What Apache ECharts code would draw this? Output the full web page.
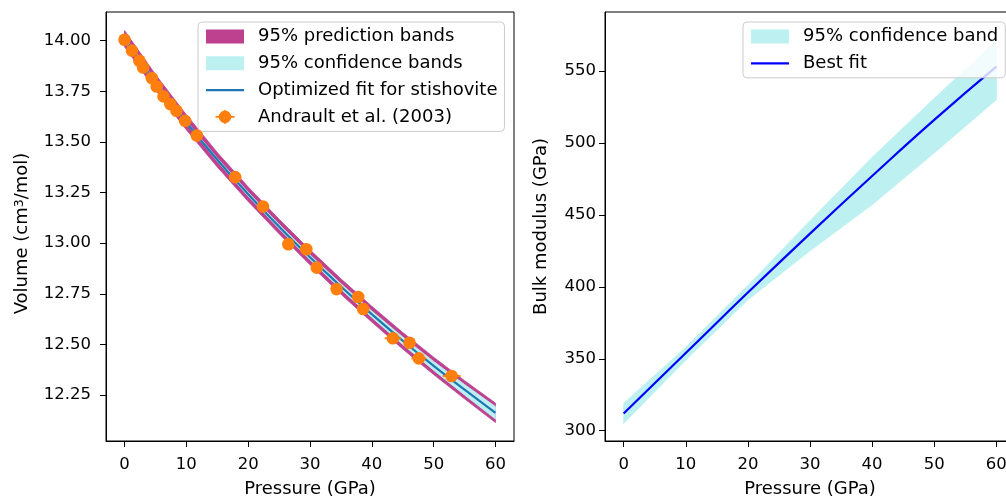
<!DOCTYPE html>
<html><head><meta charset="utf-8">
<script src="https://cdn.jsdelivr.net/npm/echarts@6/dist/echarts.min.js"></script>
<style>html,body{margin:0;padding:0;background:#fff}#c{width:1006px;height:498px}</style>
</head><body><div id="c"></div>
<script>
// ---- tick labels ----
const xTicks = [0, 10, 20, 30, 40, 50, 60];
const volTicks = [12.25, 12.5, 12.75, 13.0, 13.25, 13.5, 13.75, 14.0];
const kTicks = [300, 350, 400, 450, 500, 550];

// ---- left panel: fit curve and bands ----
const fitP     = [0, 5, 10, 15, 20, 25, 30, 35, 40, 45, 50, 55, 60];
const fitV     = [14.010, 13.795, 13.597, 13.412, 13.242, 13.082, 12.930, 12.786, 12.649, 12.518, 12.394, 12.276, 12.162];
const predHigh = [14.050, 13.833, 13.634, 13.448, 13.278, 13.118, 12.967, 12.824, 12.688, 12.559, 12.437, 12.321, 12.210];
const predLow  = [13.970, 13.757, 13.560, 13.376, 13.206, 13.046, 12.893, 12.748, 12.610, 12.477, 12.351, 12.231, 12.114];
const confHigh = [14.020, 13.802, 13.603, 13.420, 13.252, 13.093, 12.942, 12.800, 12.665, 12.537, 12.416, 12.302, 12.193];
const confLow  = [14.000, 13.788, 13.591, 13.404, 13.232, 13.071, 12.918, 12.772, 12.633, 12.499, 12.372, 12.250, 12.131];

// ---- left panel: Andrault et al. (2003) data ----
const ptP  = [0.0, 1.2, 2.4, 3.0, 4.4, 5.2, 6.3, 7.4, 8.4, 9.8, 11.7, 17.9, 22.4, 26.5, 29.4, 31.1, 34.3, 37.8, 38.6, 43.4, 46.1, 47.6, 52.9];
const ptV  = [14.005, 13.951, 13.901, 13.868, 13.816, 13.774, 13.725, 13.687, 13.654, 13.604, 13.532, 13.326, 13.181, 12.995, 12.970, 12.879, 12.773, 12.734, 12.675, 12.530, 12.508, 12.431, 12.344];
const ptPe = [0.05, 0.05, 0.1, 0.1, 0.15, 0.15, 0.2, 0.2, 0.25, 0.3, 0.35, 0.5, 0.6, 0.7, 0.8, 0.8, 0.9, 0.9, 0.8, 1.3, 0.9, 1.2, 1.45];
const ptVe = [0.01, 0.01, 0.01, 0.01, 0.01, 0.01, 0.01, 0.01, 0.01, 0.01, 0.01, 0.01, 0.01, 0.01, 0.01, 0.01, 0.01, 0.01, 0.01, 0.01, 0.01, 0.01, 0.01];

// ---- right panel: bulk modulus ----
const kP    = [0, 10, 20, 30, 40, 50, 60];
const kFit  = [312, 354, 396, 437, 477, 516, 553];
const kLow  = [305, 349, 391, 425, 457, 493, 530];
const kHigh = [319, 358, 401, 446, 490, 531, 571];

const FONT = 'DejaVu Sans';
const PURPLE = '#be4190';
const CYAN = '#bdf1f1';
const C0 = '#1f77b4';
const ORANGE = '#ff7f0e';
const BLUE = '#0000ff';
const TICK_FS = 16.5;
const LABEL_FS = 18;

const zip = (a, b) => a.map((v, i) => [v, b[i]]);

const LINE_ICON = 'path://M0,0L38,0L38,2.2L0,2.2Z';
const ERR_ICON = 'path://M15.8,7A6.3,6.3 0 1,1 3.2,7A6.3,6.3 0 1,1 15.8,7Z M0,6.2L19,6.2L19,7.8L0,7.8Z M8.7,0L10.3,0L10.3,14L8.7,14Z';

function xAxisDef(gi) {
  return {
    gridIndex: gi, type: 'value', min: -3, max: 63,
    axisLine: { show: true, onZero: false, lineStyle: { color: '#000', width: 1 } },
    axisTick: { show: true, length: 6, customValues: xTicks, lineStyle: { color: '#000', width: 1 } },
    axisLabel: { customValues: xTicks, margin: 15, fontSize: TICK_FS, color: '#000', fontFamily: FONT },
    splitLine: { show: false },
    name: 'Pressure (GPa)', nameLocation: 'middle', nameGap: 39,
    nameTextStyle: { fontSize: LABEL_FS, color: '#000', fontFamily: FONT }
  };
}
function yAxisDef(gi, min, max, ticks, fmt, name, gap, margin, nameStyle) {
  return {
    gridIndex: gi, type: 'value', min: min, max: max,
    axisLine: { show: true, onZero: false, lineStyle: { color: '#000', width: 1 } },
    axisTick: { show: true, length: 6, customValues: ticks, lineStyle: { color: '#000', width: 1 } },
    axisLabel: { customValues: ticks, margin: margin, fontSize: TICK_FS, color: '#000', fontFamily: FONT, formatter: fmt },
    splitLine: { show: false },
    name: name, nameLocation: 'middle', nameGap: gap, nameRotate: 90,
    nameTextStyle: Object.assign({ fontSize: LABEL_FS, color: '#000', fontFamily: FONT }, nameStyle || {})
  };
}
function bandSeries(name, gi, xs, lo, hi, color, z) {
  return {
    type: 'custom', name: name, xAxisIndex: gi, yAxisIndex: gi, z: z,
    data: xs.map((x, i) => [x, lo[i], hi[i]]),
    encode: { x: 0, y: [1, 2] }, itemStyle: { color: color },
    renderItem: function (params, api) {
      if (params.dataIndexInside !== 0) return null;
      const n = params.dataInsideLength;
      const up = [], dn = [];
      for (let i = 0; i < n; i++) {
        const x = api.value(0, i);
        up.push(api.coord([x, api.value(2, i)]));
        dn.push(api.coord([x, api.value(1, i)]));
      }
      return { type: 'polygon', shape: { points: up.concat(dn.reverse()) },
               style: { fill: color, stroke: color, lineWidth: 0.8 } };
    }
  };
}
const legendBase = {
  orient: 'vertical', top: 22, itemGap: 8.8, itemWidth: 38, itemHeight: 14,
  padding: [5.5, 7, 5.5, 8],
  backgroundColor: 'rgba(255,255,255,0.8)', borderColor: '#cccccc', borderWidth: 1, borderRadius: 4,
  selectedMode: false,
  textStyle: { fontSize: LABEL_FS, color: '#000', fontFamily: FONT, padding: [0, 0, 0, 9] }
};

const option = {
  animation: false,
  textStyle: { fontFamily: FONT },
  grid: [
    { left: 106, top: 12, width: 408, height: 429, show: true, borderColor: '#000', borderWidth: 1, outerBoundsMode: 'none' },
    { left: 605, top: 12, width: 410, height: 429, show: true, borderColor: '#000', borderWidth: 1, outerBoundsMode: 'none' }
  ],
  xAxis: [xAxisDef(0), xAxisDef(1)],
  yAxis: [
    yAxisDef(0, 12.0228, 14.1418, volTicks, v => v.toFixed(2), 'Volume (cm{sup|3}/mol)', 75, 15, {
      padding: [0, 14, 0, 0],
      rich: { sup: { fontSize: 12.5, verticalAlign: 'top', color: '#000', fontFamily: FONT } }
    }),
    yAxisDef(1, 292.84, 591.0, kTicks, v => String(v), 'Bulk modulus (GPa)', 55, 9)
  ],
  legend: [
    Object.assign({}, legendBase, {
      left: 198,
      data: [
        { name: '95% prediction bands', icon: 'rect', itemStyle: { color: PURPLE, opacity: 1, borderWidth: 0 } },
        { name: '95% confidence bands', icon: 'rect', itemStyle: { color: CYAN, opacity: 1, borderWidth: 0 } },
        { name: 'Optimized fit for stishovite', icon: LINE_ICON, itemStyle: { color: C0, opacity: 1, borderWidth: 0 } },
        { name: 'Andrault et al. (2003)', icon: ERR_ICON, itemStyle: { color: ORANGE, opacity: 1, borderWidth: 0 } }
      ]
    }),
    Object.assign({}, legendBase, {
      left: 743,
      data: [
        { name: '95% confidence band', icon: 'rect', itemStyle: { color: CYAN, opacity: 1, borderWidth: 0 } },
        { name: 'Best fit', icon: LINE_ICON, itemStyle: { color: BLUE, opacity: 1, borderWidth: 0 } }
      ]
    })
  ],
  series: [
    bandSeries('95% prediction bands', 0, fitP, predLow, predHigh, PURPLE, 1),
    bandSeries('95% confidence bands', 0, fitP, confLow, confHigh, CYAN, 2),
    { type: 'line', name: 'Optimized fit for stishovite', xAxisIndex: 0, yAxisIndex: 0, data: zip(fitP, fitV),
      symbol: 'none', smooth: true, lineStyle: { width: 2.2, color: C0 }, itemStyle: { color: C0 }, z: 3 },
    { type: 'custom', name: 'Andrault et al. (2003)', xAxisIndex: 0, yAxisIndex: 0,
      data: ptP.map((p, i) => [p, ptV[i], ptPe[i], ptVe[i]]),
      encode: { x: 0, y: 1 }, itemStyle: { color: ORANGE }, z: 4,
      renderItem: function (params, api) {
        const x = api.value(0), y = api.value(1), xe = api.value(2), ye = api.value(3);
        const c = api.coord([x, y]);
        const l = api.coord([x - xe, y]), r = api.coord([x + xe, y]);
        const t = api.coord([x, y + ye]), b = api.coord([x, y - ye]);
        return { type: 'group', children: [
          { type: 'line', shape: { x1: l[0], y1: c[1], x2: r[0], y2: c[1] }, style: { stroke: ORANGE, lineWidth: 2 } },
          { type: 'line', shape: { x1: c[0], y1: t[1], x2: c[0], y2: b[1] }, style: { stroke: ORANGE, lineWidth: 2 } },
          { type: 'circle', shape: { cx: c[0], cy: c[1], r: 6.3 }, style: { fill: ORANGE } }
        ] };
      } },
    bandSeries('95% confidence band', 1, kP, kLow, kHigh, CYAN, 1),
    { type: 'line', name: 'Best fit', xAxisIndex: 1, yAxisIndex: 1, data: zip(kP, kFit),
      symbol: 'none', smooth: true, lineStyle: { width: 2.2, color: BLUE }, itemStyle: { color: BLUE }, z: 3 }
  ]
};
const chart = echarts.init(document.getElementById('c'), null, { renderer: 'canvas' });
chart.setOption(option);
</script>
</body></html>
